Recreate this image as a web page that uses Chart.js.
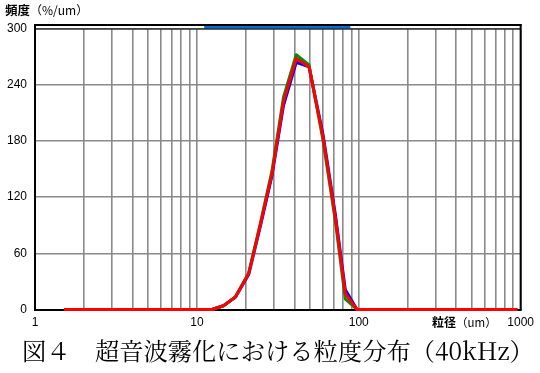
<!DOCTYPE html>
<html>
<head>
<meta charset="utf-8">
<script src="https://cdn.jsdelivr.net/npm/chart.js@4/dist/chart.umd.min.js"></script>
<style>
  html, body { margin: 0; padding: 0; background: #fff; }
  #wrap { position: relative; width: 540px; height: 373px; overflow: hidden; }
  canvas { position: absolute; left: 0; top: 0; }
  .ytitle { position: absolute; left: 5px; top: 0px; font-family: "Noto Sans CJK JP", sans-serif; font-size: 12.5px; font-weight: bold; color: #000; white-space: nowrap; }
  .ytitle span { font-weight: normal; font-size: 12px; }
  .xtitle { position: absolute; left: 432px; top: 313px; font-family: "Noto Sans CJK JP", sans-serif; font-size: 12px; font-weight: bold; color: #000; white-space: nowrap; }
  .xtitle span { font-weight: normal; font-size: 11.5px; }
  .caption { position: absolute; left: 22px; top: 332px; font-family: "Noto Serif CJK JP", "Noto Sans CJK JP", serif; font-size: 24.3px; color: #000; white-space: nowrap; }
</style>
</head>
<body>
<div id="wrap">
  <canvas id="c" width="540" height="373"></canvas>
  <div class="ytitle">頻度<span>（%/um）</span></div>
  <div class="xtitle">粒径<span>（um）</span></div>
  <div class="caption">図４　超音波霧化における粒度分布（40kHz）</div>
</div>
<script>
// Particle size (um) bins
const sizes = [1.51, 12.4, 14.6, 17.3, 20.9, 24.6, 29.1, 34.3, 41.1, 49.3, 60.1, 71.6, 82.6, 97.5, 953];
// Frequency (%/um) per run
const redSeries   = [0, 0, 4, 13.5, 38.5, 90, 145, 222, 268, 259, 184, 99, 17, 0, 0];
const greenSeries = [0, 0, 4, 13.5, 39,   91, 148, 227, 272, 261, 181, 95, 11, 0, 0];
const blueSeries  = [0, 0, 4, 13,   37.5, 88, 143, 218, 264, 259, 187, 102, 21, 0, 0];
// Axis ticks
const xMajorTicks = [1, 10, 100, 1000];
const xMinorMultipliers = [2, 3, 4, 5, 6, 7, 8, 9];
const yTicks = [0, 60, 120, 180, 240, 300];
// Measurement range bar at the top (um)
const measureRange = [11.1, 88.7];

function toPoints(vals) { return sizes.map((s, i) => ({ x: s, y: vals[i] })); }

const xTickValues = [];
for (let d = 0; d < xMajorTicks.length - 1; d++) {
  xTickValues.push(xMajorTicks[d]);
  xMinorMultipliers.forEach(m => xTickValues.push(xMajorTicks[d] * m));
}
xTickValues.push(xMajorTicks[xMajorTicks.length - 1]);

const framePlugin = {
  id: 'frame',
  afterDatasetsDraw(chart) {
    const { ctx, chartArea: a, scales } = chart;
    ctx.save();
    const x0 = scales.x.getPixelForValue(measureRange[0]);
    const x1 = scales.x.getPixelForValue(measureRange[1]);
    ctx.fillStyle = '#0070d8';
    ctx.fillRect(x0, a.top - 2.5, x1 - x0, 2.5);
    ctx.strokeStyle = '#000';
    ctx.lineWidth = 2;
    ctx.beginPath();
    ctx.moveTo(a.left - 1, a.top - 3.5);
    ctx.lineTo(a.right + 1, a.top - 3.5);
    ctx.stroke();
    ctx.lineWidth = 1;
    ctx.beginPath();
    ctx.moveTo(a.left, a.top + 0.5);
    ctx.lineTo(a.right, a.top + 0.5);
    ctx.stroke();
    ctx.lineWidth = 2;
    ctx.beginPath();
    ctx.moveTo(a.right, a.top - 4.5);
    ctx.lineTo(a.right, a.bottom + 1);
    ctx.stroke();
    ctx.beginPath();
    ctx.moveTo(a.left, a.top - 4.5);
    ctx.lineTo(a.left, a.bottom + 1);
    ctx.stroke();
    ctx.restore();
  }
};

new Chart(document.getElementById('c'), {
  type: 'line',
  data: {
    datasets: [
      { label: 'red', data: toPoints(redSeries), borderColor: '#ff0000', borderWidth: 3, order: 0 },
      { label: 'green', data: toPoints(greenSeries), borderColor: '#0b8a0b', borderWidth: 3, order: 1 },
      { label: 'blue', data: toPoints(blueSeries), borderColor: '#0000ff', borderWidth: 3, order: 2 }
    ]
  },
  options: {
    responsive: false,
    devicePixelRatio: 1,
    animation: false,
    layout: { padding: { top: 28.5, right: 19, left: 0, bottom: 0 } },
    elements: { point: { radius: 0 }, line: { tension: 0, borderJoinStyle: 'round', borderCapStyle: 'butt' } },
    datasets: { line: { clip: false } },
    plugins: { legend: { display: false }, tooltip: { enabled: false }, title: { display: false } },
    scales: {
      x: {
        type: 'logarithmic',
        min: 1, max: 1000,
        afterBuildTicks(scale) { scale.ticks = xTickValues.map(v => ({ value: v, major: xMajorTicks.includes(v) })); },
        afterFit(scale) { scale.height = 63.5; },
        ticks: {
          autoSkip: false, maxRotation: 0, padding: 6,
          color: '#000',
          font: { family: 'Liberation Sans', size: 12 },
          callback(v) { return xMajorTicks.includes(v) ? String(v) : ''; }
        },
        grid: { color: '#8a8a8a', lineWidth: 1.6, drawTicks: false },
        border: { display: true, color: '#000', width: 2 }
      },
      y: {
        min: 0, max: 300,
        afterBuildTicks(scale) { scale.ticks = yTicks.map(v => ({ value: v })); },
        afterFit(scale) { scale.width = 35; },
        ticks: {
          padding: 8, color: '#000',
          font: { family: 'Liberation Sans', size: 12 }
        },
        grid: { color: '#8a8a8a', lineWidth: 1.6, drawTicks: false },
        border: { display: true, color: '#000', width: 2 }
      }
    }
  },
  plugins: [framePlugin]
});
</script>
</body>
</html>
